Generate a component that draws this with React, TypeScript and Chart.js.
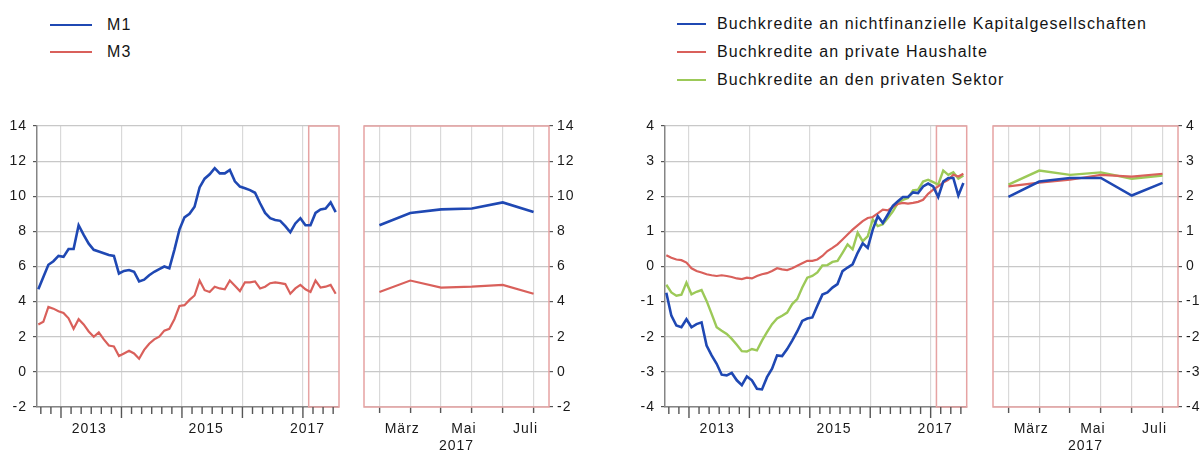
import React, { useEffect, useRef } from 'react';
import { Chart, registerables } from 'chart.js';

Chart.register(...registerables);

// ---------- categories ----------
const START_YEAR = 2012;
const START_MONTH = 8; // August 2012
const N_MONTHS = 60; // Aug 2012 .. Jul 2017
const months: string[] = [];
for (let k = 0; k < N_MONTHS; k++) {
  const t = START_MONTH - 1 + k;
  const y = START_YEAR + Math.floor(t / 12);
  const m = (t % 12) + 1;
  months.push(`${y}-${String(m).padStart(2, '0')}`);
}
// month centre, measured in months from the start of January 2013
const monthPos = (s: string) => {
  const [y, m] = s.split('-').map(Number);
  return (y - 2013) * 12 + (m - 1) + 0.5;
};

const zoomLabels = ['Feb', 'März', 'Apr', 'Mai', 'Juni', 'Juli'];
const zoomShown = ['März', 'Mai', 'Juli'];
const zoomYear = '2017';

const yearLabels = ['2013', '2015', '2017'];
const yearLabelPos = [5.6, 28.8, 48.9];

// ---------- series: left panel ----------
const m1 = [4.7, 5.4, 6.1, 6.3, 6.6, 6.55, 7.0, 7.0, 8.35, 7.8, 7.3, 6.95, 6.85, 6.75, 6.65, 6.6, 5.6, 5.75, 5.8, 5.7,
  5.15, 5.25, 5.5, 5.7, 5.85, 6.0, 5.9, 6.95, 8.1, 8.8, 9.0, 9.4, 10.5, 11.0, 11.25, 11.6, 11.3, 11.3, 11.5, 10.85,
  10.55, 10.45, 10.35, 10.2, 9.6, 9.05, 8.75, 8.65, 8.6, 8.3, 7.95, 8.45, 8.75, 8.35, 8.35, 9.05, 9.25, 9.3, 9.65, 9.1];
const m3 = [2.7, 2.85, 3.7, 3.6, 3.45, 3.35, 3.05, 2.45, 3.0, 2.7, 2.3, 2.0, 2.25, 1.85, 1.5, 1.45, 0.9, 1.05, 1.2, 1.05,
  0.75, 1.25, 1.6, 1.85, 2.0, 2.35, 2.45, 3.0, 3.75, 3.8, 4.1, 4.35, 5.2, 4.65, 4.55, 4.85, 4.75, 4.7, 5.2, 4.9,
  4.6, 5.1, 5.1, 5.15, 4.75, 4.85, 5.05, 5.1, 5.05, 5.0, 4.45, 4.75, 4.95, 4.7, 4.55, 5.2, 4.8, 4.85, 4.95, 4.45];

// ---------- series: right panel ----------
const nfc = [-0.75, -1.4, -1.68, -1.73, -1.5, -1.73, -1.64, -1.59, -2.25, -2.53, -2.77, -3.08, -3.1, -3.03, -3.24, -3.38,
  -3.13, -3.24, -3.48, -3.5, -3.15, -2.91, -2.53, -2.55, -2.35, -2.11, -1.85, -1.55, -1.48, -1.45, -1.12, -0.8, -0.74,
  -0.6, -0.5, -0.13, -0.03, 0.06, 0.39, 0.66, 0.53, 1.05, 1.43, 1.24, 1.48, 1.73, 1.86, 1.98, 1.98, 2.11, 2.09, 2.28,
  2.36, 2.28, 1.98, 2.42, 2.52, 2.52, 2.02, 2.38];
const hh = [0.32, 0.25, 0.2, 0.18, 0.11, -0.05, -0.13, -0.17, -0.22, -0.25, -0.27, -0.25, -0.27, -0.3, -0.34, -0.36,
  -0.32, -0.34, -0.27, -0.22, -0.19, -0.13, -0.05, -0.08, -0.1, -0.05, 0.02, 0.09, 0.16, 0.16, 0.2, 0.3, 0.44, 0.53,
  0.63, 0.77, 0.91, 1.05, 1.17, 1.29, 1.38, 1.41, 1.51, 1.62, 1.6, 1.7, 1.78, 1.81, 1.79, 1.81, 1.84, 1.9, 2.07, 2.19,
  2.28, 2.39, 2.47, 2.61, 2.56, 2.64];
const ps = [-0.52, -0.74, -0.83, -0.8, -0.46, -0.79, -0.72, -0.67, -0.98, -1.35, -1.73, -1.83, -1.92, -2.06, -2.23,
  -2.41, -2.42, -2.35, -2.39, -2.11, -1.87, -1.64, -1.48, -1.4, -1.31, -1.07, -0.93, -0.6, -0.32, -0.27, -0.17, 0.03,
  0.04, 0.13, 0.16, 0.39, 0.63, 0.49, 0.96, 0.72, 0.86, 1.34, 1.15, 1.2, 1.38, 1.57, 1.81, 1.9, 1.95, 2.17, 2.19, 2.42,
  2.47, 2.4, 2.33, 2.73, 2.61, 2.68, 2.5, 2.59];

const leftSeries = [
  { label: 'M1', data: m1, color: '#1f48b3', width: 2.6 },
  { label: 'M3', data: m3, color: '#d9605b', width: 2.2 },
];
const rightSeries = [
  { label: 'Buchkredite an nichtfinanzielle Kapitalgesellschaften', data: nfc, color: '#1f48b3', width: 2.6 },
  { label: 'Buchkredite an private Haushalte', data: hh, color: '#d9605b', width: 2.2 },
  { label: 'Buchkredite an den privaten Sektor', data: ps, color: '#9cc958', width: 2.4 },
];

// ---------- styles ----------
const FONT_FAMILY = "'Liberation Sans', Arial, sans-serif";
const TEXT = '#1a1a1a';
const GRID_H = '#c8c8c8';
const GRID_V = '#d9d9d9';
const AXIS = '#858585';
const TICK = '#555555';
const BOX = '#e6a3a3';
const X_MIN = -4.76;
const X_MAX = 55.16;
const ZOOM_FROM = 49.15;

const tickFont = { family: FONT_FAMILY, size: 14 };

const spacingPlugin = {
  id: 'letterSpacing',
  beforeLayout(chart: any) { chart.ctx.letterSpacing = '1px'; },
  beforeDraw(chart: any) { chart.ctx.letterSpacing = '1px'; },
};

const zoomBoxPlugin = {
  id: 'zoomBox',
  beforeDatasetsDraw(chart: any) {
    const { ctx, chartArea, scales } = chart;
    const x0 = scales.x.getPixelForValue(ZOOM_FROM);
    ctx.save();
    ctx.strokeStyle = BOX;
    ctx.lineWidth = 1.5;
    ctx.strokeRect(x0, chartArea.top, chartArea.right - x0, chartArea.bottom - chartArea.top);
    ctx.restore();
  },
};

const minorTickValues: number[] = [];
for (let v = -4; v <= 54; v += 2) minorTickValues.push(v);

const xTickMarksPlugin = {
  id: 'xTickMarks',
  afterDraw(chart: any) {
    const { ctx, chartArea, scales } = chart;
    ctx.save();
    ctx.strokeStyle = TICK;
    ctx.lineWidth = 1.4;
    for (const v of minorTickValues) {
      const x = scales.x.getPixelForValue(v);
      const len = v % 12 === 0 ? 11 : 7;
      ctx.beginPath();
      ctx.moveTo(x, chartArea.bottom);
      ctx.lineTo(x, chartArea.bottom + len);
      ctx.stroke();
    }
    ctx.restore();
  },
};

const framePlugin = {
  id: 'frame',
  beforeDatasetsDraw(chart: any) {
    const { ctx, chartArea } = chart;
    ctx.save();
    ctx.strokeStyle = BOX;
    ctx.lineWidth = 1.5;
    ctx.strokeRect(chartArea.left, chartArea.top, chartArea.right - chartArea.left, chartArea.bottom - chartArea.top);
    ctx.restore();
  },
};

function mainConfig(series: any[], yMin: number, yMax: number, yStep: number, yWidth: number, padRight: number) {
  return {
    type: 'line',
    data: {
      datasets: series.map((s) => ({
        label: s.label,
        data: months.map((m, k) => ({ x: monthPos(m), y: s.data[k] })),
        borderColor: s.color,
        borderWidth: s.width,
        pointRadius: 0,
        tension: 0,
        fill: false,
      })),
    },
    options: {
      responsive: false,
      animation: false,
      devicePixelRatio: 1,
      layout: { padding: { top: 16, right: padRight, left: 0, bottom: 0 } },
      plugins: { legend: { display: false }, tooltip: { enabled: false } },
      scales: {
        x: {
          type: 'linear',
          min: X_MIN,
          max: X_MAX,
          afterBuildTicks: (s: any) => {
            const vals = [...minorTickValues, ...yearLabelPos].sort((a, b) => a - b);
            s.ticks = vals.map((v) => ({ value: v }));
          },
          afterFit: (s: any) => { s.height = 46; },
          grid: {
            drawTicks: false,
            lineWidth: 1.2,
            color: (c: any) => (c.tick && c.tick.value % 12 === 0 ? GRID_V : 'rgba(0,0,0,0)'),
          },
          border: { color: AXIS, width: 1.5 },
          ticks: {
            autoSkip: false,
            maxRotation: 0,
            padding: 14,
            font: tickFont,
            color: TEXT,
            callback: (v: number) => {
              const i = yearLabelPos.findIndex((p) => Math.abs(p - v) < 1e-6);
              return i >= 0 ? yearLabels[i] : '';
            },
          },
        },
        y: {
          min: yMin,
          max: yMax,
          afterFit: (s: any) => { s.width = yWidth; },
          grid: { color: GRID_H, lineWidth: 1.2, tickLength: 4, tickColor: TICK },
          border: { color: AXIS, width: 1.5 },
          ticks: { stepSize: yStep, padding: 6, font: tickFont, color: TEXT },
        },
      },
    },
    plugins: [zoomBoxPlugin, xTickMarksPlugin, spacingPlugin],
  };
}

function zoomConfig(series: any[], yMin: number, yMax: number, yStep: number, padLeft: number, yWidth: number) {
  return {
    type: 'line',
    data: {
      labels: zoomLabels,
      datasets: series.map((s) => ({
        label: s.label,
        data: s.data.slice(-zoomLabels.length),
        borderColor: s.color,
        borderWidth: s.width,
        pointRadius: 0,
        tension: 0,
        fill: false,
      })),
    },
    options: {
      responsive: false,
      animation: false,
      devicePixelRatio: 1,
      layout: { padding: { top: 16, right: 0, left: padLeft, bottom: 0 } },
      plugins: { legend: { display: false }, tooltip: { enabled: false } },
      scales: {
        x: {
          type: 'category',
          offset: true,
          afterFit: (s: any) => { s.height = 46; },
          grid: { offset: false, color: GRID_V, lineWidth: 1.2, tickLength: 6, tickColor: TICK, tickWidth: 1.4 },
          border: { display: false },
          ticks: {
            autoSkip: false,
            maxRotation: 0,
            padding: 8,
            labelOffset: -8,
            font: tickFont,
            color: TEXT,
            callback: (_v: any, i: number) => (zoomShown.includes(zoomLabels[i]) ? zoomLabels[i] : ''),
          },
          title: { display: true, text: zoomYear, padding: 0, font: { ...tickFont, lineHeight: 1 }, color: TEXT },
        },
        y: {
          position: 'right',
          min: yMin,
          max: yMax,
          afterFit: (s: any) => { s.width = yWidth; },
          grid: { color: GRID_H, lineWidth: 1.2, tickLength: 4, tickColor: TICK },
          border: { display: false },
          ticks: { stepSize: yStep, padding: 4, font: tickFont, color: TEXT },
        },
      },
    },
    plugins: [framePlugin, spacingPlugin],
  };
}

function ChartCanvas(props: { make: () => any; left: number; top: number; width: number; height: number }) {
  const ref = useRef<HTMLCanvasElement>(null);
  useEffect(() => {
    const chart = new Chart(ref.current as HTMLCanvasElement, props.make());
    return () => chart.destroy();
  }, []);
  return (
    <canvas
      ref={ref}
      width={props.width}
      height={props.height}
      style={{ position: 'absolute', left: props.left, top: props.top, width: props.width, height: props.height }}
    />
  );
}

function Legend(props: { items: any[]; lineX0: number; lineX1: number; textX: number; ys: number[] }) {
  return (
    <>
      {props.items.map((s, i) => (
        <React.Fragment key={s.label}>
          <div
            style={{
              position: 'absolute',
              left: props.lineX0,
              top: props.ys[i] - 1,
              width: props.lineX1 - props.lineX0,
              height: 2,
              background: s.color,
            }}
          />
          <div
            style={{
              position: 'absolute',
              left: props.textX,
              top: props.ys[i] - 10,
              height: 20,
              lineHeight: '20px',
              fontFamily: FONT_FAMILY,
              fontSize: 16,
              letterSpacing: '1.1px',
              color: '#141414',
              whiteSpace: 'nowrap',
            }}
          >
            {s.label}
          </div>
        </React.Fragment>
      ))}
    </>
  );
}

export default function App() {
  return (
    <div style={{ position: 'fixed', left: 0, top: 0, width: 1203, height: 453, background: '#ffffff', overflow: 'hidden' }}>
      <Legend items={leftSeries} lineX0={50} lineX1={92} textX={107} ys={[25, 52]} />
      <Legend items={rightSeries} lineX0={677} lineX1={706} textX={717} ys={[24, 52, 80]} />
      <ChartCanvas make={() => mainConfig(leftSeries, -2, 14, 2, 37, 9)} left={0} top={110} width={348} height={343} />
      <ChartCanvas make={() => zoomConfig(leftSeries, -2, 14, 2, 14, 41)} left={350} top={110} width={240} height={343} />
      <ChartCanvas make={() => mainConfig(rightSeries, -4, 4, 1, 65, 7)} left={600} top={110} width={375} height={343} />
      <ChartCanvas make={() => zoomConfig(rightSeries, -4, 4, 1, 18, 25)} left={975} top={110} width={228} height={343} />
    </div>
  );
}
